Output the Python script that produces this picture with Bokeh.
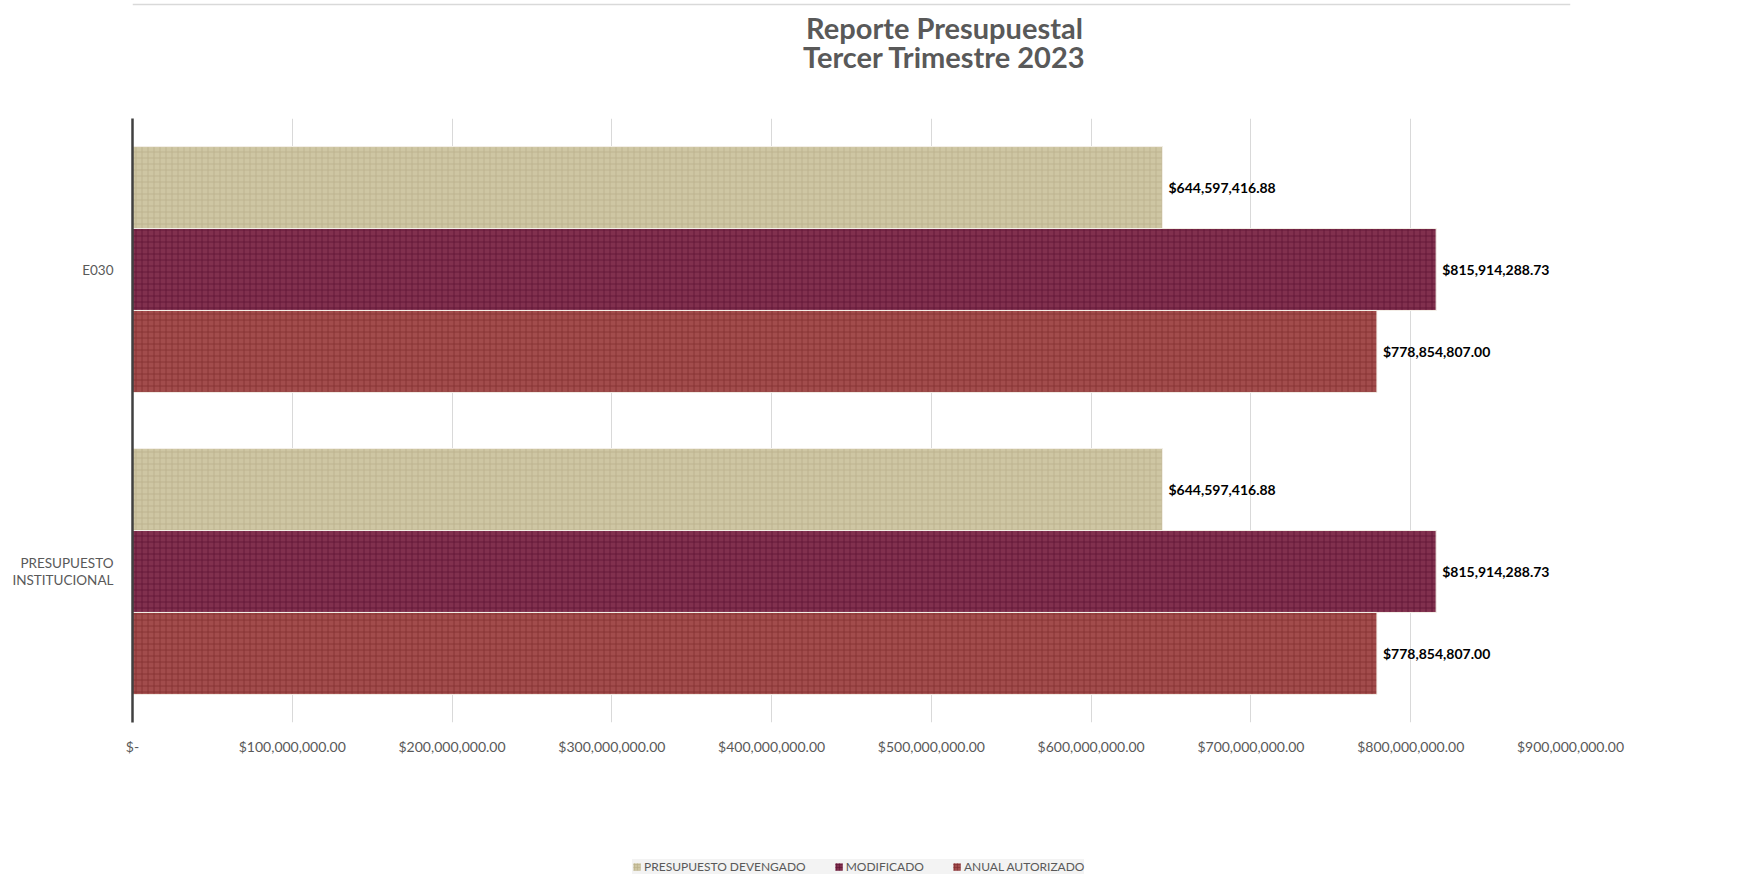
from bokeh.plotting import figure
from bokeh.models import (Range1d, ColumnDataSource, Legend, LegendItem,
                          FixedTicker, LinearAxis, Label, Span)
from bokeh.layouts import column
from bokeh.transform import dodge
from bokeh.core.properties import value
from bokeh.embed import file_html
from bokeh.resources import INLINE

# ---- data ----
categories = ["PRESUPUESTO INSTITUCIONAL", "E030"]
series_names = ["PRESUPUESTO DEVENGADO", "MODIFICADO", "ANUAL AUTORIZADO"]
devengado = [644597416.88, 644597416.88]
modificado = [815914288.73, 815914288.73]
anual = [778854807.00, 778854807.00]
x_ticks = [0, 100e6, 200e6, 300e6, 400e6, 500e6, 600e6, 700e6, 800e6, 900e6]
title_lines = ["Reporte Presupuestal", "Tercer Trimestre 2023"]

FONT = "Lato"
fills = ["#CEC6A3", "#81304E", "#A24C4C"]
hatches = ["#B9AF89", "#5E1333", "#7F2C2E"]
offsets = [0.2714, 0.0, -0.2714]
bar_h = 0.2714

W = 1736
TITLE_H, MAIN_H, LEG_H = 118, 639, 120
FRAME_L, FRAME_R = 132, 1570   # plot frame (shared by all stacked blocks)

# category centres on a numeric axis (one unit per category)
cat_centre = [i + 0.5 for i in range(len(categories))]
# axis labels: long category names wrapped onto two lines
ylabel_pos, ylabel_txt = [], []
for c, name in zip(cat_centre, categories):
    words = name.split(" ")
    if len(words) == 1:
        ylabel_pos.append(c); ylabel_txt.append(name)
    else:
        ylabel_pos += [c + 0.0295, c - 0.0295]
        ylabel_txt += [words[0], " ".join(words[1:])]


def bare(height):
    f = figure(width=W, height=height, output_backend="svg", toolbar_location=None,
               x_axis_location=None, y_axis_location=None, title=None,
               x_range=Range1d(FRAME_L, FRAME_R), y_range=Range1d(height, 0),
               min_border_left=FRAME_L, min_border_right=W - FRAME_R,
               min_border_top=0, min_border_bottom=0)
    f.outline_line_color = None
    f.background_fill_color = "white"
    f.border_fill_color = "white"
    f.xgrid.visible = False
    f.ygrid.visible = False
    return f


# ---- title block ----
tf = bare(TITLE_H)
tf.add_layout(Span(location=4, dimension="width", line_color="#D9D9D9", line_width=1.5))
for i, t in enumerate(title_lines):
    tf.add_layout(Label(x=944, y=27 + 29 * i, text=t, text_align="center",
                        text_baseline="middle", text_font=FONT, text_font_style="bold",
                        text_font_size="29px", text_color="#595959"))

# ---- main chart ----
p = figure(width=W, height=MAIN_H, output_backend="svg", toolbar_location=None,
           y_range=Range1d(0, len(categories)), x_range=Range1d(0, 900e6),
           y_axis_location=None, title=None,
           min_border_left=FRAME_L, min_border_right=W - FRAME_R, min_border_top=0,
           min_border_bottom=34)
p.outline_line_color = None
p.background_fill_color = "white"
p.border_fill_color = "white"

renderers = []
for name, vals, fc, hc, off in zip(series_names, [devengado, modificado, anual], fills, hatches, offsets):
    src = ColumnDataSource(dict(yc=cat_centre, val=vals,
                                lab=["${:,.2f}".format(v) for v in vals]))
    r = p.hbar(y=dodge("yc", off), right="val", left=0, height=bar_h,
               source=src, fill_color=fc, line_color="#F4F0E8", line_width=1,
               hatch_pattern="cross", hatch_color=hc, hatch_scale=6, hatch_weight=1,
               hatch_alpha=0.75)
    renderers.append(r)
    p.text(x="val", y=dodge("yc", off), text="lab", source=src,
           x_offset=6, text_baseline="middle", text_align="left",
           text_font=value(FONT), text_font_style="bold", text_font_size="14px",
           text_color="black")

p.xaxis.ticker = FixedTicker(ticks=x_ticks)
p.xaxis.major_label_overrides = {t: ("$-" if t == 0 else "${:,.2f}".format(t)) for t in x_ticks}
p.xaxis.axis_line_color = None
p.xaxis.major_tick_line_color = None
p.xaxis.minor_tick_line_color = None
p.xaxis.major_label_text_font = FONT
p.xaxis.major_label_text_font_size = "14px"
p.xaxis.major_label_text_color = "#595959"
p.xaxis.major_label_standoff = 9

yax = LinearAxis(ticker=FixedTicker(ticks=ylabel_pos),
                 major_label_overrides=dict(zip(ylabel_pos, ylabel_txt)))
yax.axis_line_color = "#404040"
yax.axis_line_width = 2.5
yax.major_tick_line_color = None
yax.minor_tick_line_color = None
yax.major_label_text_font = FONT
yax.major_label_text_font_size = "13.5px"
yax.major_label_text_color = "#595959"
yax.major_label_standoff = 13
p.add_layout(yax, "left")

p.xgrid.grid_line_color = "#D9D9D9"
p.xgrid.grid_line_width = 1
p.ygrid.grid_line_color = None

# ---- legend block (swatch renderers carry one zero-width bar each) ----
lf = bare(LEG_H)
leg_renderers = []
for name, fc, hc in zip(series_names, fills, hatches):
    esrc = ColumnDataSource(dict(y=[0], right=[FRAME_L]))
    leg_renderers.append(lf.hbar(y="y", right="right", left=FRAME_L, height=0, source=esrc,
                                 fill_color=fc, line_color=None, hatch_pattern="cross",
                                 hatch_color=hc, hatch_scale=3, hatch_weight=1, hatch_alpha=0.6))
legend = Legend(items=[LegendItem(label=n, renderers=[r]) for n, r in zip(series_names, leg_renderers)],
                location=(500, 3), orientation="horizontal",
                glyph_width=9, glyph_height=9, label_standoff=3, spacing=28,
                padding=8, margin=0,
                label_text_font=FONT, label_text_font_size="12px", label_text_color="#595959",
                background_fill_color="#F3F3F3", background_fill_alpha=1.0,
                border_line_color=None)
lf.add_layout(legend, "center")

layout = column(tf, p, lf, spacing=0)
open("out.html", "w").write(file_html(layout, INLINE))
